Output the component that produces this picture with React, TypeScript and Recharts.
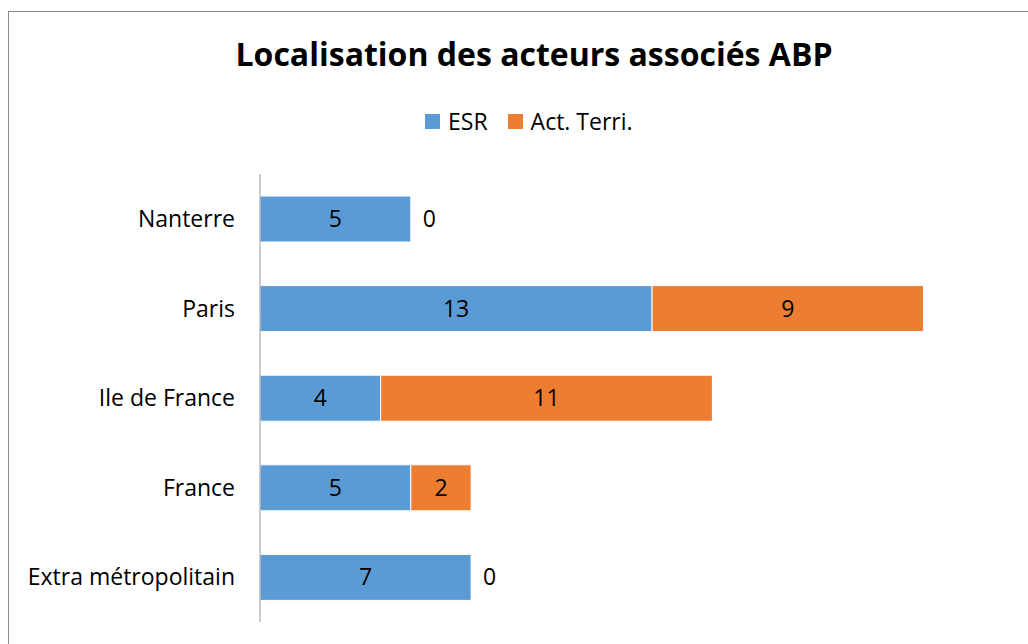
import React from "react";
import { BarChart, Bar, XAxis, YAxis, LabelList } from "recharts";

const categories = ["Nanterre", "Paris", "Ile de France", "France", "Extra métropolitain"];
const esrValues = [5, 13, 4, 5, 7];
const terriValues = [0, 9, 11, 2, 0];

const data = categories.map((name, i) => ({
  name,
  esr: esrValues[i],
  terri: terriValues[i],
}));

const FONT = "'Open Sans', sans-serif";
const BLUE = "#5B9BD5";
const ORANGE = "#ED7D31";
const LABEL_SIZE = 23;

// centred value inside the bar
function centerLabel(props: any) {
  const { x, y, width, height, value } = props;
  if (!value) return null;
  return (
    <text x={Number(x) + Number(width) / 2} y={Number(y) + Number(height) / 2} dy="0.35em" textAnchor="middle" fill="#000" fontSize={LABEL_SIZE} fontFamily={FONT}>
      {value}
    </text>
  );
}

// ESR label, plus the "0" of an empty Act. Terri. segment just past the bar end
function esrLabel(props: any) {
  const { x, y, width, height, index } = props;
  const cy = Number(y) + Number(height) / 2;
  const zero = terriValues[index] === 0;
  return (
    <g>
      {centerLabel(props)}
      {zero && (
        <text x={Number(x) + Number(width) + 12} y={cy} dy="0.35em" textAnchor="start" fill="#000" fontSize={LABEL_SIZE} fontFamily={FONT}>
          {terriValues[index]}
        </text>
      )}
    </g>
  );
}

export default function App() {
  return (
    <div style={{ position: "absolute", left: 0, top: 0, width: 1028, height: 644, overflow: "hidden", background: "#fff", fontFamily: FONT }}>
      <div style={{ position: "absolute", left: 8, top: 11, width: 1040, height: 660, border: "1px solid #8a8a8a" }} />
      <div style={{ position: "absolute", left: 0, width: 1068, top: 32, textAlign: "center", fontSize: 32, fontWeight: 700, color: "#000" }}>
        Localisation des acteurs associés ABP
      </div>
      <div style={{ position: "absolute", left: 425, top: 105, display: "flex", alignItems: "center", fontSize: LABEL_SIZE, color: "#000" }}>
        <span style={{ width: 15, height: 15, background: BLUE, display: "inline-block", marginRight: 8 }} />
        <span style={{ marginRight: 20 }}>ESR</span>
        <span style={{ width: 15, height: 15, background: ORANGE, display: "inline-block", marginRight: 8 }} />
        <span>Act. Terri.</span>
      </div>
      <div style={{ position: "absolute", left: 0, top: 0 }}>
        <BarChart
          width={1028}
          height={644}
          data={data}
          layout="vertical"
          margin={{ top: 174, right: 14, bottom: 22, left: 10 }}
        >
          <XAxis type="number" domain={[0, 25]} hide />
          <YAxis
            type="category"
            dataKey="name"
            width={250}
            axisLine={{ stroke: "#999" }}
            tickLine={false}
            tickSize={0}
            tickMargin={25}
            tick={{ fill: "#000", fontSize: LABEL_SIZE, fontFamily: FONT }}
          />
          <Bar dataKey="esr" stackId="a" fill={BLUE} stroke="#fff" strokeWidth={1} barSize={46} isAnimationActive={false}>
            <LabelList dataKey="esr" content={esrLabel} />
          </Bar>
          <Bar dataKey="terri" stackId="a" fill={ORANGE} stroke="#fff" strokeWidth={1} barSize={46} isAnimationActive={false}>
            <LabelList dataKey="terri" content={centerLabel} />
          </Bar>
        </BarChart>
      </div>
    </div>
  );
}
